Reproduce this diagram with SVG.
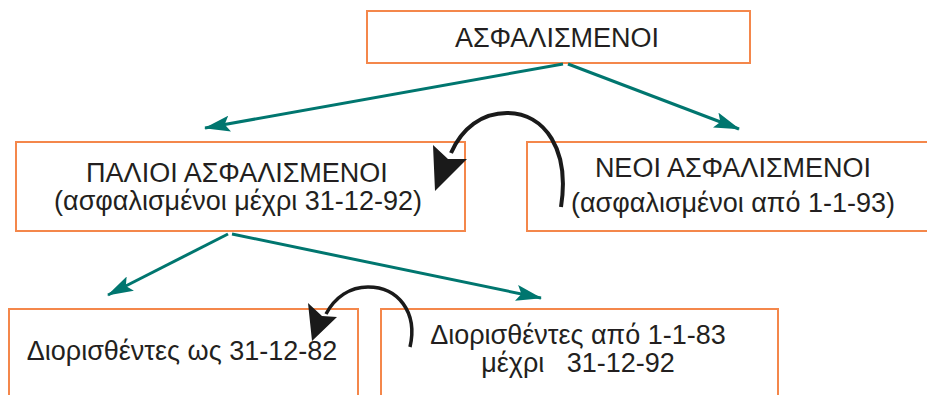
<svg xmlns="http://www.w3.org/2000/svg" width="927" height="395" viewBox="0 0 927 395">
<style>
.box{fill:#fff;stroke:#f4874b;stroke-width:2}
.t{font-family:"Liberation Sans",Arial,sans-serif;font-size:27px;fill:#231f20;text-anchor:middle}
.link{stroke:#00766f;stroke-width:3;fill:none;marker-end:url(#ah)}
.curve{stroke:#1a1a1a;fill:none;stroke-linecap:butt}
.head{fill:#1a1a1a}
</style>
<defs>
<marker id="ah" viewBox="0 0 26 16" refX="25" refY="8" markerWidth="26" markerHeight="16" markerUnits="userSpaceOnUse" orient="auto">
<path d="M0,0 L26,8 L0,16 L5,8 z" fill="#00766f"/>
</marker>
</defs>
<rect width="927" height="395" fill="#fff"/>
<g id="n-asfalismenoi">
<rect class="box" x="367" y="11" width="383" height="52"/>
<text class="t" x="557" y="47">ΑΣΦΑΛΙΣΜΕΝΟΙ</text>
</g>
<g id="n-palioi">
<rect class="box" x="16" y="142" width="449" height="89"/>
<text class="t" x="237" y="182">ΠΑΛΙΟΙ ΑΣΦΑΛΙΣΜΕΝΟΙ</text>
<text class="t" x="238" y="210">(ασφαλισμένοι μέχρι 31-12-92)</text>
</g>
<g id="n-neoi">
<rect class="box" x="527" y="142" width="404" height="89"/>
<text class="t" x="733" y="177">ΝΕΟΙ ΑΣΦΑΛΙΣΜΕΝΟΙ</text>
<text class="t" x="733" y="212">(ασφαλισμένοι από 1-1-93)</text>
</g>
<g id="n-dior82">
<rect class="box" x="9" y="309" width="349" height="100"/>
<text class="t" x="182" y="360">Διορισθέντες ως 31-12-82</text>
</g>
<g id="n-dior83-92">
<rect class="box" x="381" y="309" width="397" height="100"/>
<text class="t" x="578" y="344">Διορισθέντες από 1-1-83</text>
<text class="t" x="578" y="372" xml:space="preserve">μέχρι   31-12-92</text>
</g>
<g id="connectors">
<path class="link" d="M563,64 L205,128"/>
<path class="link" d="M568,64 L739,129"/>
<path class="link" d="M228,234 L108,295"/>
<path class="link" d="M232,234 L541,298"/>
<path class="curve" stroke-width="4" d="M561,207 C570,150 545,113 507,113 C482,113 462,128 451,153"/>
<polygon class="head" points="433,145 448,159 467,159 435,191"/>
<path class="curve" stroke-width="3.5" d="M410,347 C418,312 398,287 368,287 C350,287 335,297 326,314"/>
<polygon class="head" points="308,303 322,316 337,317 312,341"/>
</g>
</svg>
